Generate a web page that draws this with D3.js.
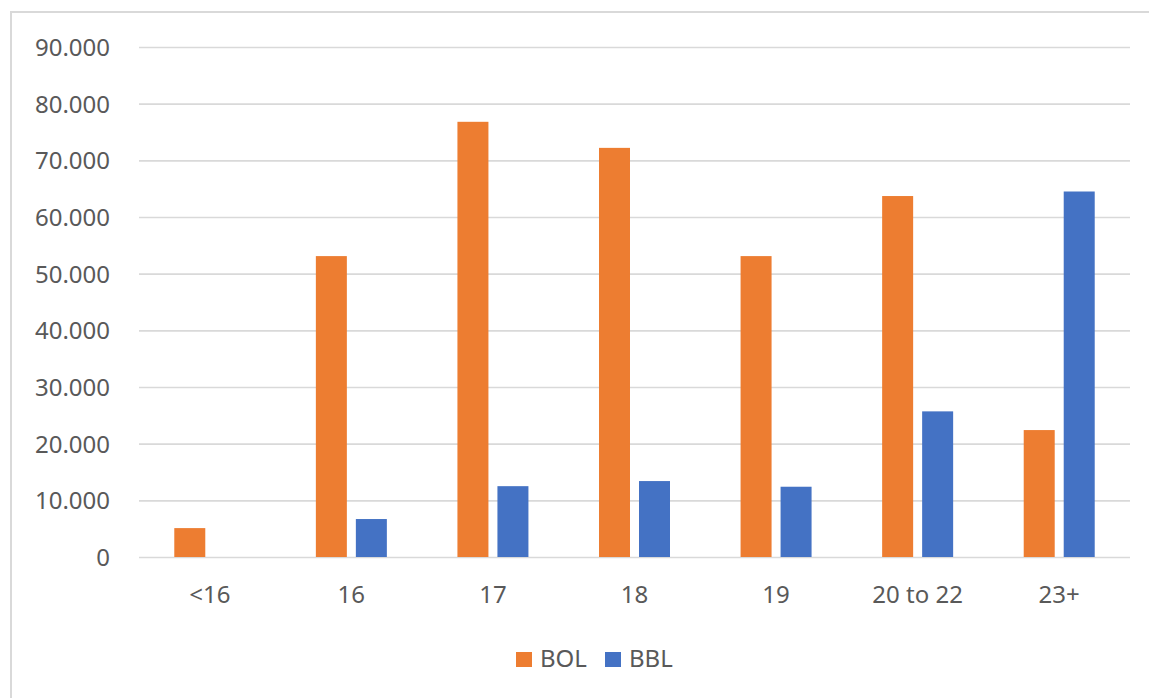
<!DOCTYPE html>
<html><head><meta charset="utf-8">
<script src="https://cdn.jsdelivr.net/npm/d3@7"></script>
<style>html,body{margin:0;padding:0;background:#fff;} svg{display:block;}</style>
</head><body>
<script>
const categories = ["<16", "16", "17", "18", "19", "20 to 22", "23+"];
const seriesNames = ["BOL", "BBL"];
const bolValues = [5100, 53100, 76800, 72200, 53100, 63700, 22400];
const bblValues = [0, 6700, 12500, 13400, 12400, 25700, 64500];
const yTicks = [0, 10000, 20000, 30000, 40000, 50000, 60000, 70000, 80000, 90000];
const colors = ["#ED7D31", "#4472C4"];

const W = 1149, H = 698;
const svg = d3.select("body").append("svg").attr("width", W).attr("height", H);
const font = "'Noto Sans', 'Open Sans', sans-serif";

// frame
svg.append("rect").attr("x", 11).attr("y", 12).attr("width", W + 20).attr("height", H + 20)
  .attr("fill", "none").attr("stroke", "#d9d9d9").attr("stroke-width", 2);

const plotL = 139, plotR = 1130, plotT = 47, plotB = 557;
const x = d3.scaleBand().domain(categories).range([plotL, plotR]).paddingInner(0).paddingOuter(0);
const y = d3.scaleLinear().domain([0, 90000]).range([plotB, plotT]);
const groupW = 71;
const xs = d3.scaleBand().domain(seriesNames).range([0, groupW]).paddingInner(9 / 40);

// gridlines
const yAxis = d3.axisLeft(y).tickValues(yTicks).tickSize(-(plotR - plotL))
  .tickFormat(d => d === 0 ? "0" : d3.format(",")(d).replace(/,/g, "."));
const gy = svg.append("g").attr("transform", `translate(${plotL},0)`).call(yAxis);
gy.select(".domain").remove();
gy.selectAll(".tick line").attr("stroke", "#d9d9d9").attr("stroke-width", 1.6);
gy.selectAll(".tick text").attr("x", -29).attr("dy", "0.35em")
  .attr("fill", "#595959").style("font-family", font).style("font-size", "24px");

// bars
const data = categories.map((c, i) => ({ c, vals: [bolValues[i], bblValues[i]] }));
const groups = svg.append("g").selectAll("g").data(data).join("g")
  .attr("transform", d => `translate(${x(d.c) + x.bandwidth() / 2 - groupW / 2},0)`);
groups.selectAll("rect").data(d => d.vals.map((v, k) => ({ v, k })).filter(e => e.v > 0)).join("rect")
  .attr("x", e => xs(seriesNames[e.k]))
  .attr("width", xs.bandwidth())
  .attr("y", e => y(e.v))
  .attr("height", e => y(0) - y(e.v))
  .attr("fill", e => colors[e.k]);

// x labels
const xAxis = d3.axisBottom(x).tickSize(0);
const gx = svg.append("g").attr("transform", `translate(0,${plotB})`).call(xAxis);
gx.select(".domain").remove();
gx.selectAll(".tick text").attr("y", 46).attr("dy", 0)
  .attr("fill", "#595959").style("font-family", font).style("font-size", "24px");

// legend
const legendItems = [{ name: "BOL", color: colors[0], x: 516 }, { name: "BBL", color: colors[1], x: 605 }];
const lg = svg.append("g");
legendItems.forEach(it => {
  lg.append("rect").attr("x", it.x).attr("y", 652).attr("width", 16).attr("height", 15).attr("fill", it.color);
  lg.append("text").attr("x", it.x + 24).attr("y", 667).text(it.name)
    .attr("fill", "#595959").style("font-family", font).style("font-size", "24px");
});
</script>
</body></html>
